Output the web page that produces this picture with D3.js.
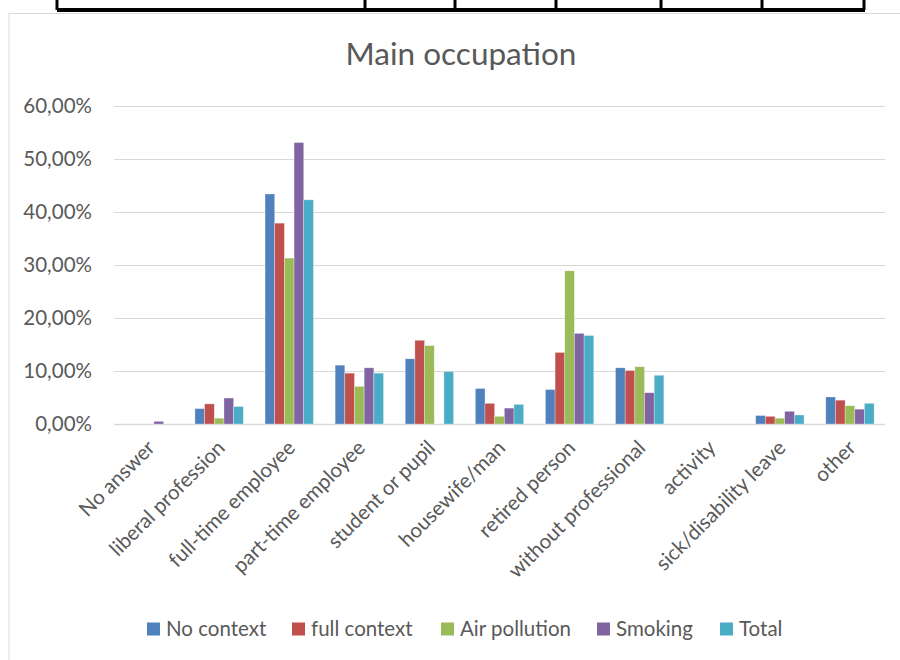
<!DOCTYPE html>
<html>
<head>
<meta charset="utf-8">
<script src="https://cdn.jsdelivr.net/npm/d3@7"></script>
<style>
  body { margin: 0; background: #fff; }
  svg { display: block; font-family: Lato, "Open Sans", sans-serif; }
</style>
</head>
<body>
<svg id="chart" width="900" height="660"></svg>
<script>
const categories = ['No answer', 'liberal profession', 'full-time employee', 'part-time employee',
  'student or pupil', 'housewife/man', 'retired person', 'without professional', 'activity',
  'sick/disability leave', 'other']
const seriesNames = ['No context', 'full context', 'Air pollution', 'Smoking', 'Total']
const noContext = [0, 2.9, 43.4, 11.1, 12.3, 6.7, 6.5, 10.6, 0, 1.6, 5.1]
const fullContext = [0, 3.8, 37.9, 9.6, 15.8, 3.9, 13.5, 10.1, 0, 1.45, 4.5]
const airPollution = [0, 1.1, 31.3, 7.1, 14.8, 1.45, 28.9, 10.8, 0, 1.1, 3.45]
const smoking = [0.5, 4.9, 53.1, 10.6, 0, 3.0, 17.1, 5.9, 0, 2.4, 2.8]
const total = [0, 3.3, 42.3, 9.6, 9.9, 3.7, 16.7, 9.2, 0, 1.7, 3.9]
const yTicks = [0, 10, 20, 30, 40, 50, 60]
const colors = ['#4F81BD', '#C0504D', '#9BBB59', '#8064A2', '#4BACC6']

const values = [noContext, fullContext, airPollution, smoking, total]
const svg = d3.select('#chart')
const textCol = '#595959'

// top table edge from the page above the chart
const tableCols = [57, 365, 455, 556, 661, 762, 864]
svg.append('rect').attr('x', 57).attr('y', 8).attr('width', 808).attr('height', 4).attr('fill', '#000')
svg.selectAll('.tcol').data(tableCols).join('rect')
    .attr('x', d => d - 1.5).attr('y', 0).attr('width', 3).attr('height', 10).attr('fill', '#000')

// chart frame
svg.append('rect').attr('x', 9).attr('y', 13.5).attr('width', 900).attr('height', 700)
    .attr('fill', 'none').attr('stroke', '#d9d9d9').attr('stroke-width', 1)

const x = d3.scaleBand().domain(categories).range([114, 885]).paddingInner(0.31).paddingOuter(0.155)
const xs = d3.scaleBand().domain(seriesNames).range([0, x.bandwidth()])
const y = d3.scaleLinear().domain([0, 60]).range([424, 106])

svg.append('text').attr('x', 461).attr('y', 65).attr('text-anchor', 'middle')
    .attr('font-size', 31.5).attr('fill', textCol).text('Main occupation')

// grid
svg.append('g').selectAll('line').data(yTicks).join('line')
    .attr('x1', 114).attr('x2', 885)
    .attr('y1', d => Math.round(y(d)) + 0.5).attr('y2', d => Math.round(y(d)) + 0.5)
    .attr('stroke', '#d9d9d9').attr('stroke-width', d => d === 0 ? 1.5 : 1)

const yAxis = svg.append('g').attr('transform', 'translate(114,0)')
    .call(d3.axisLeft(y).tickValues(yTicks).tickSize(0).tickPadding(22)
        .tickFormat(d => d.toFixed(2).replace('.', ',') + '%'))
yAxis.select('.domain').remove()
yAxis.selectAll('text').attr('font-size', 20.5).attr('fill', textCol).attr('font-family', 'Lato, sans-serif')

// bars
const groups = svg.append('g').selectAll('g').data(categories).join('g')
    .attr('transform', d => `translate(${x(d)},0)`)
groups.selectAll('rect')
    .data((c, i) => seriesNames.map((s, j) => ({ s, j, v: values[j][i] })))
    .join('rect')
    .attr('x', d => xs(d.s))
    .attr('width', xs.bandwidth())
    .attr('y', d => y(d.v))
    .attr('height', d => y(0) - y(d.v))
    .attr('fill', d => colors[d.j])
    .attr('stroke', d => d.v > 0 ? '#fff' : 'none')
    .attr('stroke-opacity', 0.5)
    .attr('stroke-width', 0.6)

// x labels
svg.append('g').selectAll('text').data(categories).join('text')
    .attr('transform', d => `translate(${x(d) + x.bandwidth() / 2 + 2},${444}) rotate(-45)`)
    .attr('text-anchor', 'end')
    .attr('dy', '0.35em')
    .attr('font-size', 20.5).attr('fill', textCol)
    .text(d => d)

// legend
const legendX = [147, 292, 441, 597, 720]
const leg = svg.append('g').selectAll('g').data(seriesNames).join('g')
    .attr('transform', (d, i) => `translate(${legendX[i]},629)`)
leg.append('rect').attr('x', 0).attr('y', -6.5).attr('width', 13).attr('height', 13)
    .attr('fill', (d, i) => colors[i])
leg.append('text').attr('x', 19).attr('dy', '0.35em').attr('font-size', 20.5).attr('fill', textCol).text(d => d)
</script>
</body>
</html>
